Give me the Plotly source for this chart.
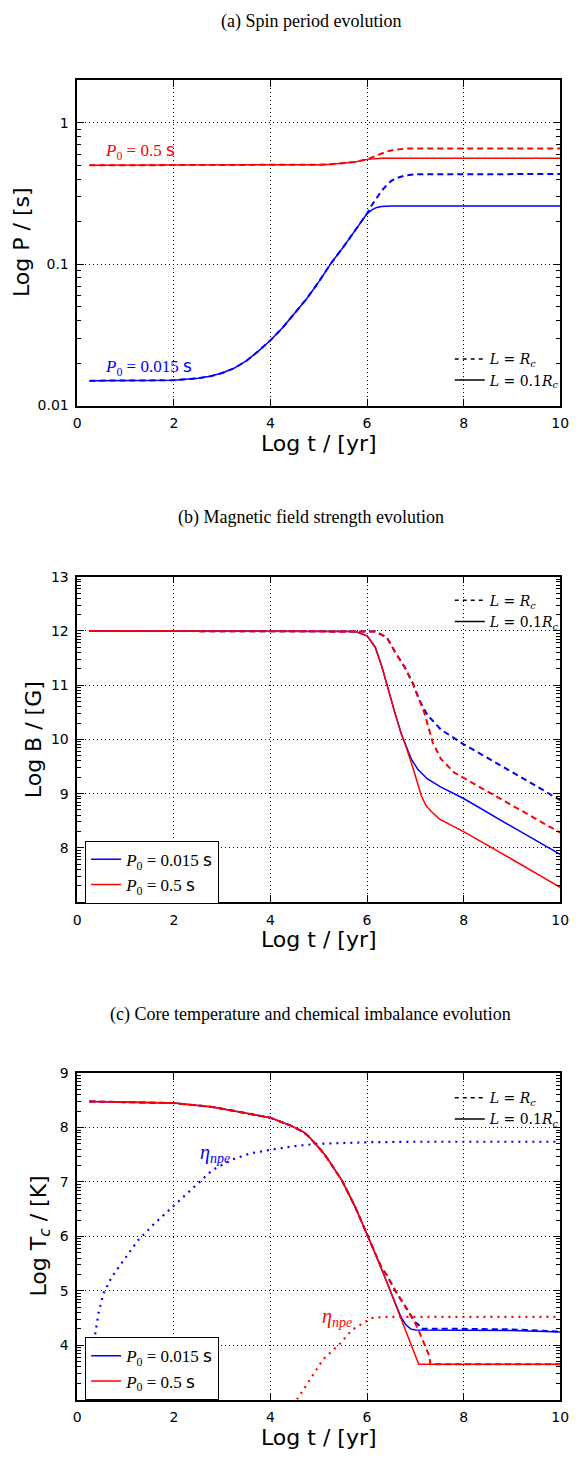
import numpy as np
import plotly.graph_objects as go

# ---------------- data ----------------
# (a) spin period, log t [yr] vs P [s]
tP = [0.25, 1.0, 2.0, 2.5, 2.75, 3.0, 3.25, 3.5, 3.75, 4.0, 4.25, 4.5, 4.75, 5.0, 5.25, 5.5, 5.75, 6.0,
      6.1, 6.2, 6.3, 6.4, 6.5, 6.6, 6.8, 7.0, 8.0, 10.0]
P_blue_01Rc = [0.0150, 0.0150, 0.0151, 0.0156, 0.0161, 0.0170, 0.0184, 0.0207, 0.0243, 0.0290, 0.0355, 0.0450,
               0.0570, 0.0750, 0.101, 0.131, 0.174, 0.228,
               0.242, 0.252, 0.256, 0.258, 0.258, 0.258, 0.258, 0.258, 0.258, 0.258]
P_blue_Rc = [0.0150, 0.0150, 0.0151, 0.0156, 0.0161, 0.0170, 0.0184, 0.0207, 0.0243, 0.0290, 0.0355, 0.0450,
             0.0570, 0.0750, 0.101, 0.131, 0.174, 0.228,
             0.262, 0.295, 0.330, 0.360, 0.388, 0.405, 0.425, 0.432, 0.434, 0.434]
P_red_01Rc = [0.500, 0.500, 0.500, 0.500, 0.500, 0.500, 0.500, 0.5003, 0.5005, 0.5007, 0.5011, 0.5017,
              0.503, 0.5054, 0.509, 0.516, 0.528, 0.551,
              0.556, 0.559, 0.561, 0.561, 0.561, 0.561, 0.561, 0.561, 0.561, 0.561]
P_red_Rc = [0.500, 0.500, 0.500, 0.500, 0.500, 0.500, 0.500, 0.5003, 0.5005, 0.5007, 0.5011, 0.5017,
            0.503, 0.5054, 0.509, 0.516, 0.528, 0.551,
            0.570, 0.590, 0.610, 0.625, 0.637, 0.647, 0.656, 0.659, 0.659, 0.659]

# (b) magnetic field, log B [G]
tB_blue_01Rc = [0.25, 2.0, 4.0, 5.5, 5.76, 6.0, 6.17, 6.31, 6.44, 6.58, 6.71, 6.81, 6.92, 7.05, 7.25, 7.53, 8.0, 9.0, 10.0]
B_blue_01Rc = [12.0, 12.0, 12.0, 12.0, 11.99, 11.91, 11.70, 11.33, 10.91, 10.48, 10.10, 9.86, 9.63, 9.45, 9.27, 9.12, 8.91, 8.39, 7.88]
tB_red_01Rc = [0.25, 2.0, 4.0, 5.5, 5.76, 6.0, 6.17, 6.31, 6.44, 6.58, 6.71, 6.81, 6.98, 7.12, 7.22, 7.33, 7.5, 8.0, 9.0, 10.0]
B_red_01Rc = [12.0, 12.0, 12.0, 12.0, 11.99, 11.91, 11.70, 11.33, 10.91, 10.48, 10.10, 9.86, 9.39, 8.97, 8.78, 8.67, 8.53, 8.30, 7.79, 7.27]
tB_blue_Rc = [0.25, 2.0, 4.0, 6.0, 6.17, 6.41, 6.58, 6.78, 6.95, 7.08, 7.25, 7.53, 8.0, 9.0, 10.0]
B_blue_Rc = [12.0, 12.0, 12.0, 12.0, 11.99, 11.88, 11.61, 11.33, 11.03, 10.73, 10.45, 10.18, 9.91, 9.40, 8.88]
tB_red_Rc = [0.25, 2.0, 4.0, 6.0, 6.17, 6.41, 6.58, 6.78, 6.95, 7.08, 7.19, 7.36, 7.53, 7.80, 8.0, 9.0, 10.0]
B_red_Rc = [12.0, 12.0, 12.0, 12.0, 11.99, 11.88, 11.61, 11.33, 11.03, 10.73, 10.48, 9.94, 9.64, 9.39, 9.29, 8.79, 8.28]

# (c) core temperature, log Tc [K]
tT_blue_01Rc = [0.25, 1.0, 2.0, 2.8, 3.4, 4.0, 4.41, 4.68, 4.8, 4.95, 5.1, 5.22, 5.49, 5.76, 6.0, 6.2, 6.4, 6.6,
                6.7, 6.8, 6.9, 7.0, 8.0, 9.0, 10.0]
T_blue_01Rc = [8.48, 8.47, 8.45, 8.38, 8.28, 8.18, 8.04, 7.92, 7.83, 7.69, 7.53, 7.38, 7.01, 6.53, 6.04, 5.62, 5.18, 4.72,
               4.52, 4.38, 4.30, 4.28, 4.28, 4.27, 4.24]
tT_red_01Rc = [0.25, 1.0, 2.0, 2.8, 3.4, 4.0, 4.41, 4.68, 4.8, 4.95, 5.1, 5.22, 5.49, 5.76, 6.0, 6.2, 6.4, 6.6,
               6.8, 7.07, 8.0, 10.0]
T_red_01Rc = [8.48, 8.47, 8.45, 8.38, 8.28, 8.18, 8.04, 7.92, 7.83, 7.69, 7.53, 7.38, 7.01, 6.53, 6.04, 5.62, 5.18, 4.72,
              4.26, 3.65, 3.65, 3.65]
tT_blue_Rc = [0.25, 1.0, 2.0, 2.8, 3.4, 4.0, 4.41, 4.68, 4.8, 4.95, 5.1, 5.22, 5.49, 5.76, 6.0, 6.2, 6.3, 6.4, 6.6,
              6.8, 7.0, 7.06, 7.12, 8.0, 9.0, 10.0]
T_blue_Rc = [8.48, 8.47, 8.45, 8.38, 8.28, 8.18, 8.04, 7.92, 7.83, 7.69, 7.53, 7.38, 7.01, 6.53, 6.04, 5.62, 5.42, 5.30,
             4.98, 4.70, 4.42, 4.38, 4.30, 4.30, 4.29, 4.25]
tT_red_Rc = [0.25, 1.0, 2.0, 2.8, 3.4, 4.0, 4.41, 4.68, 4.8, 4.95, 5.1, 5.22, 5.49, 5.76, 6.0, 6.2, 6.3, 6.4, 6.6,
             6.8, 7.0, 7.1, 7.2, 7.29, 7.31, 8.0, 10.0]
T_red_Rc = [8.48, 8.47, 8.45, 8.38, 8.28, 8.18, 8.04, 7.92, 7.83, 7.69, 7.53, 7.38, 7.01, 6.53, 6.04, 5.62, 5.42, 5.30,
            4.98, 4.70, 4.40, 4.20, 3.99, 3.80, 3.65, 3.65, 3.65]
# chemical imbalance eta_npe (dotted)
tEta_blue = [0.30, 0.36, 0.44, 0.54, 0.71, 0.91, 1.25, 1.58, 2.0, 2.39, 2.80, 3.2, 3.6, 4.0, 4.41, 4.95, 6.0, 7.0, 8.0, 10.0]
Eta_blue = [3.30, 4.15, 4.59, 4.95, 5.25, 5.50, 5.92, 6.22, 6.56, 6.89, 7.22, 7.41, 7.53, 7.59, 7.65, 7.70, 7.73, 7.74, 7.74, 7.74]
tEta_red = [4.55, 4.82, 5.09, 5.42, 5.69, 6.0, 6.1, 6.37, 7.0, 8.0, 10.0]
Eta_red = [3.00, 3.38, 3.74, 4.01, 4.28, 4.45, 4.50, 4.52, 4.52, 4.52, 4.52]

x_ticks = [0, 2, 4, 6, 8, 10]
P_ticks = [0.01, 0.1, 1]
P_ticktext = ["0.01", "0.1", "1"]
B_ticks = [8, 9, 10, 11, 12, 13]
T_ticks = [4, 5, 6, 7, 8, 9]

BLUE = "#0000ff"
RED = "#ff0000"

# ---------------- geometry (page pixels) ----------------
W, H = 579, 1459


def fx(px):
    return px / W


def fy(py):
    return 1 - py / H


xdom = [fx(75), fx(569)]
dom_a = [fy(402), fy(73)]
dom_b = [fy(904), fy(575)]
dom_c = [fy(1407), fy(1077)]

fig = go.Figure()

SOLID = dict(width=1.5)
DASHED = dict(width=2, dash="6px,4px")
DOTTED = dict(width=2.2, dash="2px,5px")


def add(x, y, color, style, xa, ya):
    fig.add_trace(go.Scatter(x=x, y=y, mode="lines", line=dict(color=color, **style),
                             xaxis=xa, yaxis=ya, showlegend=False, hoverinfo="skip"))


# (a)
add(tP, P_blue_Rc, BLUE, DASHED, "x", "y")
add(tP, P_blue_01Rc, BLUE, SOLID, "x", "y")
add(tP, P_red_Rc, RED, DASHED, "x", "y")
add(tP, P_red_01Rc, RED, SOLID, "x", "y")
# (b)
add(tB_blue_01Rc, B_blue_01Rc, BLUE, SOLID, "x2", "y2")
add(tB_blue_Rc, B_blue_Rc, BLUE, DASHED, "x2", "y2")
add(tB_red_01Rc, B_red_01Rc, RED, SOLID, "x2", "y2")
add(tB_red_Rc, B_red_Rc, RED, DASHED, "x2", "y2")
# (c)
add(tEta_blue, Eta_blue, BLUE, DOTTED, "x3", "y3")
add(tEta_red, Eta_red, RED, DOTTED, "x3", "y3")
add(tT_blue_01Rc, T_blue_01Rc, BLUE, SOLID, "x3", "y3")
add(tT_blue_Rc, T_blue_Rc, BLUE, DASHED, "x3", "y3")
add(tT_red_01Rc, T_red_01Rc, RED, SOLID, "x3", "y3")
add(tT_red_Rc, T_red_Rc, RED, DASHED, "x3", "y3")

# legend-only entries
L_RC = "<i>L</i> = <i>R</i><sub><i>c</i></sub>"
L_01RC = "<i>L</i> = 0.1<i>R</i><sub><i>c</i></sub>"
P0_FAST = "<i>P</i><sub>0</sub> = 0.015 <span style='font-family:DejaVu Sans'>s</span>"
P0_SLOW = "<i>P</i><sub>0</sub> = 0.5 <span style='font-family:DejaVu Sans'>s</span>"

for leg, xa, ya in [("legend", "x", "y"), ("legend2", "x2", "y2"), ("legend3", "x3", "y3")]:
    fig.add_trace(go.Scatter(x=[None], y=[None], mode="lines", name=L_RC,
                             line=dict(color="black", width=1.5, dash="4px,4px"),
                             legend=leg, xaxis=xa, yaxis=ya, hoverinfo="skip"))
    fig.add_trace(go.Scatter(x=[None], y=[None], mode="lines", name=L_01RC,
                             line=dict(color="black", width=1.5),
                             legend=leg, xaxis=xa, yaxis=ya, hoverinfo="skip"))
for leg, xa, ya in [("legend4", "x2", "y2"), ("legend5", "x3", "y3")]:
    fig.add_trace(go.Scatter(x=[None], y=[None], mode="lines", name=P0_FAST,
                             line=dict(color=BLUE, width=1.5), legend=leg, xaxis=xa, yaxis=ya,
                             hoverinfo="skip"))
    fig.add_trace(go.Scatter(x=[None], y=[None], mode="lines", name=P0_SLOW,
                             line=dict(color=RED, width=1.5), legend=leg, xaxis=xa, yaxis=ya,
                             hoverinfo="skip"))

TICKFONT = dict(family="DejaVu Sans", size=14, color="black")
axis_common = dict(showline=True, linecolor="black", linewidth=1.5, mirror="ticks",
                   ticks="inside", ticklen=7, tickwidth=1, tickcolor="black",
                   showgrid=True, gridcolor="black", gridwidth=1, griddash="1px,3px",
                   zeroline=False, tickfont=TICKFONT, ticklabelstandoff=4)

xaxis_common = dict(axis_common, range=[0, 10], tickvals=x_ticks, domain=xdom)

# minor tick positions (styling only)
log_minor = [m * 10.0 ** e for e in (-2, -1, 0) for m in range(2, 10) if m * 10.0 ** e < 2.05]
lin_minor_b = [n + np.log10(k) for n in range(7, 13) for k in range(2, 10)]
lin_minor_c = [n + np.log10(k) for n in range(3, 9) for k in range(2, 10)]
minor_common = dict(ticks="inside", ticklen=4, tickcolor="black", showgrid=False)

LEG_L = dict(bgcolor="rgba(0,0,0,0)", borderwidth=0, itemwidth=30,
             font=dict(family="DejaVu Serif", size=14, color="black"),
             xanchor="left", yanchor="top", tracegroupgap=0)
LEG_P = dict(bgcolor="white", bordercolor="black", borderwidth=1, itemwidth=30,
             font=dict(family="Liberation Serif", size=17, color="black"),
             xanchor="left", yanchor="top", tracegroupgap=0)

fig.update_layout(
    width=W, height=H, autosize=False,
    margin=dict(l=0, r=0, t=0, b=0),
    paper_bgcolor="white", plot_bgcolor="white",
    hovermode=False,
    xaxis=dict(xaxis_common, anchor="y"),
    xaxis2=dict(xaxis_common, anchor="y2"),
    xaxis3=dict(xaxis_common, anchor="y3"),
    yaxis=dict(axis_common, type="log", range=[-2, np.log10(2)], tickvals=P_ticks, ticktext=P_ticktext,
               domain=dom_a, anchor="x", minor=dict(minor_common, tickvals=log_minor)),
    yaxis2=dict(axis_common, range=[7, 13], tickvals=B_ticks, domain=dom_b, anchor="x2",
                minor=dict(minor_common, tickvals=lin_minor_b)),
    yaxis3=dict(axis_common, range=[3, 9], tickvals=T_ticks, domain=dom_c, anchor="x3",
                minor=dict(minor_common, tickvals=lin_minor_c)),
    legend=dict(LEG_L, x=fx(456), y=fy(339)),
    legend2=dict(LEG_L, x=fx(456), y=fy(583)),
    legend3=dict(LEG_L, x=fx(456), y=fy(1086)),
    legend4=dict(LEG_P, x=fx(83), y=fy(842)),
    legend5=dict(LEG_P, x=fx(83), y=fy(1344)),
    showlegend=True,
)

SERIF = "Liberation Serif"
SANS = "DejaVu Sans"
ann = []
# panel titles
for txt, ypx in [("(a) Spin period evolution", 14),
                 ("(b) Magnetic field strength evolution", 515),
                 ("(c) Core temperature and chemical imbalance evolution", 1018)]:
    ann.append(dict(text=txt, x=fx(314), y=fy(ypx), xref="paper", yref="paper",
                    showarrow=False, xanchor="center", yanchor="middle",
                    font=dict(family=SERIF, size=18, color="black")))
# x axis titles
for ypx in (440, 942, 1445):
    ann.append(dict(text="Log t / [yr]", x=fx(322), y=fy(ypx), xref="paper", yref="paper",
                    showarrow=False, xanchor="center", yanchor="middle",
                    font=dict(family=SANS, size=22, color="black")))
# y axis titles
for txt, xpx, ypx in [("Log P / [s]", 18, 237), ("Log B / [G]", 31, 740),
                      ("Log T<sub><i>c</i></sub> / [K]", 37, 1242)]:
    ann.append(dict(text=txt, x=fx(xpx), y=fy(ypx), xref="paper", yref="paper",
                    showarrow=False, xanchor="center", yanchor="middle", textangle=-90,
                    font=dict(family=SANS, size=22, color="black")))
# curve labels
ann.append(dict(text=P0_SLOW, x=0.54, y=np.log10(0.63), xref="x", yref="y", showarrow=False,
                xanchor="left", yanchor="middle", font=dict(family=SERIF, size=17, color=RED)))
ann.append(dict(text=P0_FAST, x=0.54, y=np.log10(0.0187), xref="x", yref="y", showarrow=False,
                xanchor="left", yanchor="middle", font=dict(family=SERIF, size=17, color=BLUE)))
ann.append(dict(text="<i>η</i><sub><i>npe</i></sub>", x=2.49, y=7.53, xref="x3", yref="y3",
                showarrow=False, xanchor="left", yanchor="middle",
                font=dict(family=SERIF, size=20, color=BLUE)))
ann.append(dict(text="<i>η</i><sub><i>npe</i></sub>", x=5.02, y=4.50, xref="x3", yref="y3",
                showarrow=False, xanchor="left", yanchor="middle",
                font=dict(family=SERIF, size=20, color=RED)))
fig.update_layout(annotations=ann)

fig.write_html("out.html",
               config={"displayModeBar": False},
               post_script="document.body.style.margin='0px';document.body.style.overflow='hidden';")
